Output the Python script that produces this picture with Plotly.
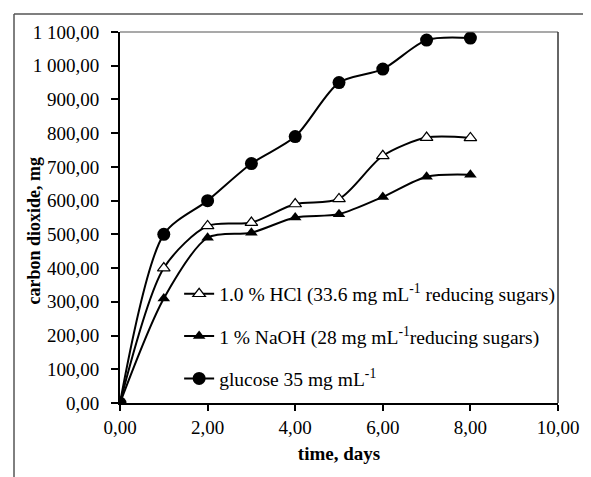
import plotly.graph_objects as go

days = [0, 1, 2, 3, 4, 5, 6, 7, 8]
hcl = [0, 400, 525, 535, 590, 605, 733, 787, 786]
naoh = [0, 310, 490, 505, 550, 560, 611, 671, 677]
glucose = [0, 500, 600, 710, 790, 950, 990, 1076, 1082]

names = [
    "1.0 % HCl (33.6 mg mL<sup>-1</sup> reducing sugars)",
    "1 % NaOH (28 mg mL<sup>-1</sup>reducing sugars)",
    "glucose 35 mg mL<sup>-1</sup>",
]

y_ticks = [0, 100, 200, 300, 400, 500, 600, 700, 800, 900, 1000, 1100]
y_ticktext = ["0,00", "100,00", "200,00", "300,00", "400,00", "500,00", "600,00",
              "700,00", "800,00", "900,00", "1 000,00", "1 100,00"]
x_ticks = [0, 2, 4, 6, 8, 10]
x_ticktext = ["0,00", "2,00", "4,00", "6,00", "8,00", "10,00"]

FONT = "Liberation Serif"
FS = 19

fig = go.Figure()
fig.add_trace(go.Scatter(
    x=days, y=hcl, name=names[0], legendgroup="a", mode="lines+markers",
    line=dict(color="black", width=2, shape="spline", smoothing=0.8),
    marker=dict(symbol="triangle-up", size=11, color="white", line=dict(color="black", width=1.2)),
))
fig.add_trace(go.Scatter(
    x=days, y=naoh, name=names[1], legendgroup="b", mode="lines+markers",
    line=dict(color="black", width=2, shape="spline", smoothing=0.8),
    marker=dict(symbol="triangle-up", size=11, color="black"),
))
fig.add_trace(go.Scatter(
    x=days, y=glucose, name=names[2], legendgroup="c", mode="lines+markers",
    line=dict(color="black", width=2, shape="spline", smoothing=0.8),
    marker=dict(symbol="circle", size=13, color="black"),
))

# outer frame and plot frame
fig.add_shape(type="line", xref="paper", yref="paper", x0=-0.242, x1=1.1, y0=1.0485, y1=1.0485,
              line=dict(color="#555555", width=1.5))
fig.add_shape(type="line", xref="paper", yref="paper", x0=-0.242, x1=-0.242, y0=1.0485, y1=-0.3,
              line=dict(color="#555555", width=1.5))
fig.add_shape(type="line", xref="paper", yref="paper", x0=0, x1=1, y0=1, y1=1,
              line=dict(color="#555555", width=1.2))
fig.add_shape(type="line", xref="paper", yref="paper", x0=1, x1=1, y0=0, y1=1,
              line=dict(color="#333333", width=1.5))

fig.add_annotation(text="<b>carbon dioxide, mg</b>", xref="paper", yref="paper",
                   x=-0.197, y=0.464, textangle=-90, showarrow=False,
                   xanchor="center", yanchor="middle",
                   font=dict(family=FONT, size=18, color="black"))

fig.update_layout(
    width=583, height=469,
    margin=dict(l=112, r=29, t=24, b=74),
    paper_bgcolor="white", plot_bgcolor="white",
    font=dict(family=FONT, color="black", size=FS),
    showlegend=True,
    legend=dict(x=0.135, y=0.179, xanchor="left", yanchor="middle",
                bgcolor="rgba(0,0,0,0)", font=dict(family=FONT, size=19.5, color="black"),
                tracegroupgap=14, traceorder="grouped"),
    xaxis=dict(range=[0, 10], tickvals=x_ticks, ticktext=x_ticktext, showgrid=False, zeroline=False,
               showline=True, linecolor="black", linewidth=2, ticks="outside", ticklen=6,
               tickwidth=2, tickcolor="black",
               title=dict(text="<b>time, days</b>", font=dict(family=FONT, size=FS), standoff=10)),
    yaxis=dict(range=[0, 1100], tickvals=y_ticks, ticktext=y_ticktext, showgrid=False, zeroline=False,
               showline=True, linecolor="black", linewidth=2, ticks="outside", ticklen=7,
               tickwidth=2, tickcolor="black", ticklabelstandoff=8),
)

fig.write_html("out.html")
